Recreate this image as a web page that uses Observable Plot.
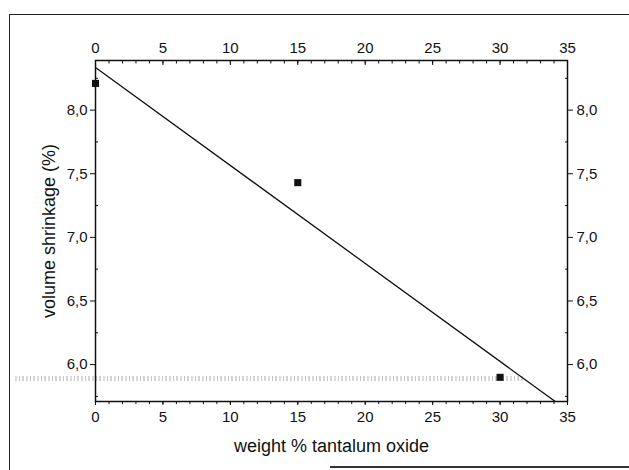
<!DOCTYPE html>
<html>
<head>
<meta charset="utf-8">
<script src="https://cdn.jsdelivr.net/npm/d3@7"></script>
<script src="https://cdn.jsdelivr.net/npm/@observablehq/plot@0.6"></script>
<style>
  html, body { margin: 0; padding: 0; background: #fff; overflow: hidden; }
  #wrap { position: relative; width: 629px; height: 470px; overflow: hidden; }
  #border { position: absolute; left: 9px; top: 14px; width: 800px; height: 470px;
            border-left: 1.5px solid #222; border-top: 1.5px solid #222; }
  #bottomline { position: absolute; left: 330px; top: 466px; width: 400px; height: 0;
            border-top: 2px solid #333; }
  #band { position: absolute; left: 15px; top: 376px; width: 510px; height: 5px;
          background: repeating-linear-gradient(90deg, #d0d0d0 0 2px, #fff 2px 4px, #b8b8b8 4px 5px, #fff 5px 7px, #c8c8c8 7px 9px, #fff 9px 11px); opacity: 0.8; }
  svg text { fill: #111; }
</style>
</head>
<body>
<div id="wrap"><div id="border"></div><div id="bottomline"></div><div id="band"></div><div id="chart"></div></div>
<script>
const weightPct = [0, 15, 30];
const shrinkage = [8.21, 7.43, 5.90];
const xMajorTicks = [0, 5, 10, 15, 20, 25, 30, 35];
const xMinorTicks = d3.range(0, 36, 1);
const yMajorTicks = [6.0, 6.5, 7.0, 7.5, 8.0];
const yMinorTicks = [5.75, 6.25, 6.75, 7.25, 7.75, 8.25];
const xLabel = "weight % tantalum oxide";
const yLabel = "volume shrinkage (%)";

const data = weightPct.map((w, i) => ({w, s: shrinkage[i]}));

// least-squares fit from the data
const mx = d3.mean(weightPct), my = d3.mean(shrinkage);
const slope = d3.sum(weightPct, (w, i) => (w - mx) * (shrinkage[i] - my)) / d3.sum(weightPct, w => (w - mx) ** 2);
const intercept = my - slope * mx;
const fitX = [0, 35];
const fit = fitX.map(w => ({w, s: intercept + slope * w}));

const fmt = d => d.toFixed(1).replace(".", ",");

const chart = Plot.plot({
  width: 629,
  height: 470,
  marginLeft: 95,
  marginRight: 62,
  marginTop: 60,
  marginBottom: 69,
  style: {fontFamily: "'Liberation Sans', Arial, sans-serif", fontSize: "15px", color: "#111", background: "transparent"},
  x: {domain: [0, 35]},
  y: {domain: [5.71, 8.39]},
  marks: [
    Plot.frame({stroke: "#111", strokeWidth: 1.5}),
    // bottom axis
    Plot.axisX({anchor: "bottom", ticks: xMajorTicks, tickSize: 4, tickPadding: 6, tickFormat: d => d,
                label: xLabel, labelAnchor: "center", labelArrow: "none", labelOffset: 50}),
    Plot.axisX({anchor: "bottom", ticks: xMinorTicks, tickSize: 3, text: null, label: null}),
    // top axis
    Plot.axisX({anchor: "top", ticks: xMajorTicks, tickSize: -4, tickPadding: 12, tickFormat: d => d, label: null}),
    Plot.axisX({anchor: "top", ticks: xMinorTicks, tickSize: -2.5, text: null, label: null}),
    // left axis
    Plot.axisY({anchor: "left", ticks: yMajorTicks, tickSize: 5, tickPadding: 3, tickFormat: fmt,
                label: yLabel, labelAnchor: "center", labelArrow: "none", labelOffset: 53}),
    Plot.axisY({anchor: "left", ticks: yMinorTicks, tickSize: -3, text: null, label: null}),
    // right axis
    Plot.axisY({anchor: "right", ticks: yMajorTicks, tickSize: 5, tickPadding: 4, tickFormat: fmt, label: null}),
    Plot.axisY({anchor: "right", ticks: yMinorTicks, tickSize: -3, text: null, label: null}),
    Plot.line(fit, {x: "w", y: "s", stroke: "#111", strokeWidth: 1.3, clip: true}),
    Plot.dot(data, {x: "w", y: "s", symbol: "square", r: 4, fill: "#111", stroke: "none"})
  ]
});
chart.style.position = "absolute";
chart.style.left = "0";
chart.style.top = "0";
document.getElementById("chart").appendChild(chart);
// tick labels and axis titles sizes
d3.select(chart).selectAll("g[aria-label$='tick label'] text, g[aria-label$='tick label']").style("font-size", "15px");
d3.select(chart).selectAll("g[aria-label='x-axis label'], g[aria-label='y-axis label'], g[aria-label='x-axis label'] text, g[aria-label='y-axis label'] text").style("font-size", "18px");
</script>
</body>
</html>
